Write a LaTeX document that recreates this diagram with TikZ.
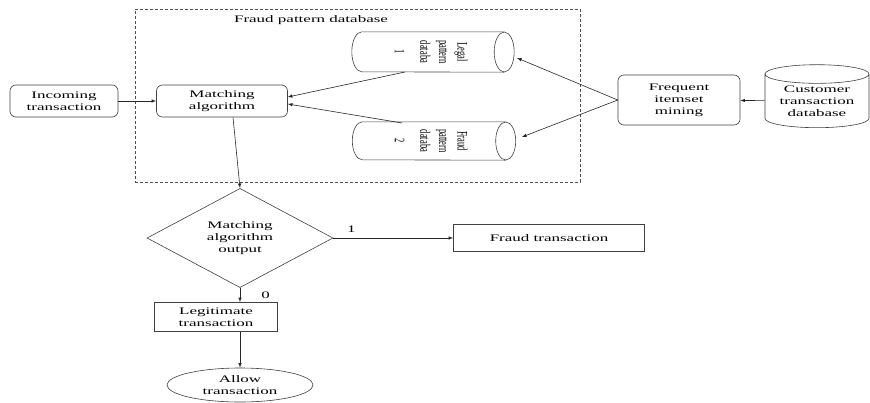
\documentclass[tikz,border=0pt]{standalone}
\usepackage{fontspec}
\setmainfont{Liberation Serif}
\newfontfamily\widefont{Liberation Serif}[FakeStretch=1.7]
\usetikzlibrary{arrows,shapes.geometric,calc,positioning}

% sideways text inside the lying cylinders
\newcommand{\sidelabel}[1]{\scalebox{1.7}[1]{\rotatebox{-90}{\fontsize{8.5}{11}\selectfont\begin{tabular}{@{}c@{}}#1\end{tabular}}}}
% outline of a lying cylinder round a node: #1 node, #2 cap x radius, #3 cap y radius
\newcommand{\lyingcyl}[3]{%
  \draw[cylline] ([xshift=-#2pt]#1.north east) -- ([xshift=#2pt]#1.north west)
    arc[start angle=-90, end angle=-270, x radius=#2, y radius=#3] -- ([xshift=-#2pt]#1.south east);
  \draw[cylline] ([xshift=-#2pt]#1.east) ellipse[x radius=#2, y radius=#3];}

\tikzset{
  box/.style={draw=black!75, rectangle, line width=0.6pt, align=center, inner sep=1pt,
    font=\widefont\fontsize{10}{12}\selectfont},
  rbox/.style={box, rounded corners=6pt},
  cylline/.style={draw=black!75, line width=0.6pt},
  dbcyl/.style={draw=black!75, cylinder, line width=0.6pt, inner sep=0pt},
  lbl/.style={font=\widefont\fontsize{10}{12}\selectfont, inner sep=1pt},
  arr/.style={-latex, line width=0.6pt, draw=black!85},
}

\begin{document}
\begin{tikzpicture}[x=1pt,y=-1pt]
\useasboundingbox (0,0) rectangle (870,402);

% fraud pattern database frame
\node[draw=black!70, line width=0.6pt, dash pattern=on 3pt off 2pt,
  minimum width=445pt, minimum height=173pt] (fpdbox) at (357.5,95.5) {};
\node[lbl] (fpdlabel) at (311,20) {Fraud pattern database};

\node[rbox, minimum width=108pt, minimum height=32pt] (incoming) at (64,101) {Incoming\\transaction};
\node[rbox, minimum width=131pt, minimum height=32pt] (match) at (222,101) {Matching\\algorithm};

\node[minimum width=162pt, minimum height=40pt, inner sep=0pt] (legal) at (433,52) {};
\lyingcyl{legal}{10}{20}
\node[inner sep=0pt] (legaltext) at (430,52) {\sidelabel{Legal\\pattern\\databa\\[4pt]1}};
\node[minimum width=163pt, minimum height=38pt, inner sep=0pt] (fraud) at (434,141) {};
\lyingcyl{fraud}{10}{19}
\node[inner sep=0pt] (fraudtext) at (430,141) {\sidelabel{Fraud\\pattern\\databa\\[4pt]2}};

\node[rbox, minimum width=122pt, minimum height=50pt] (freq) at (679,100) {Frequent\\itemset\\mining};
\node[dbcyl, shape border rotate=90, minimum width=104pt, minimum height=63pt, aspect=0.25,
  align=center, font=\widefont\fontsize{10}{12}\selectfont] (customer) at (817,101) {Customer\\transaction\\database};

\node[box, diamond, minimum width=186pt, minimum height=80pt, inner sep=0pt] (decide) at (240,238) {Matching\\algorithm\\output};
\node[box, minimum width=191pt, minimum height=27pt] (fraudtx) at (549,238) {Fraud transaction};
\node[box, minimum width=123pt, minimum height=29pt] (legit) at (216,317) {Legitimate\\transaction};
\node[box, ellipse, minimum width=146pt, minimum height=34pt] (allow) at (240,385) {Allow\\transaction};

\draw[arr] (incoming) -- (match);
\draw[arr] ($(legal.center)+(-28,20)$) -- ([yshift=4pt]match.east);
\draw[arr] ($(fraud.center)+(-32,-18)$) -- ([yshift=-3pt]match.east);
\draw[arr] (freq.west) -- ($(legal.center)+(84,6)$);
\draw[arr] (freq.west) -- ($(fraud.center)+(88,-4)$);
\draw[arr] (customer) -- (freq);
\draw[arr] ([xshift=11pt]match.south) -- (decide.north);
\draw[arr] (decide.east) -- node[lbl, above=4pt, pos=0.15] (one) {1} (fraudtx.west);
\draw[arr] (decide.south) -- node[lbl, right=20pt] (zero) {0} (decide.south |- legit.north);
\draw[arr] (allow.north |- legit.south) -- (allow.north);
\end{tikzpicture}
\end{document}
